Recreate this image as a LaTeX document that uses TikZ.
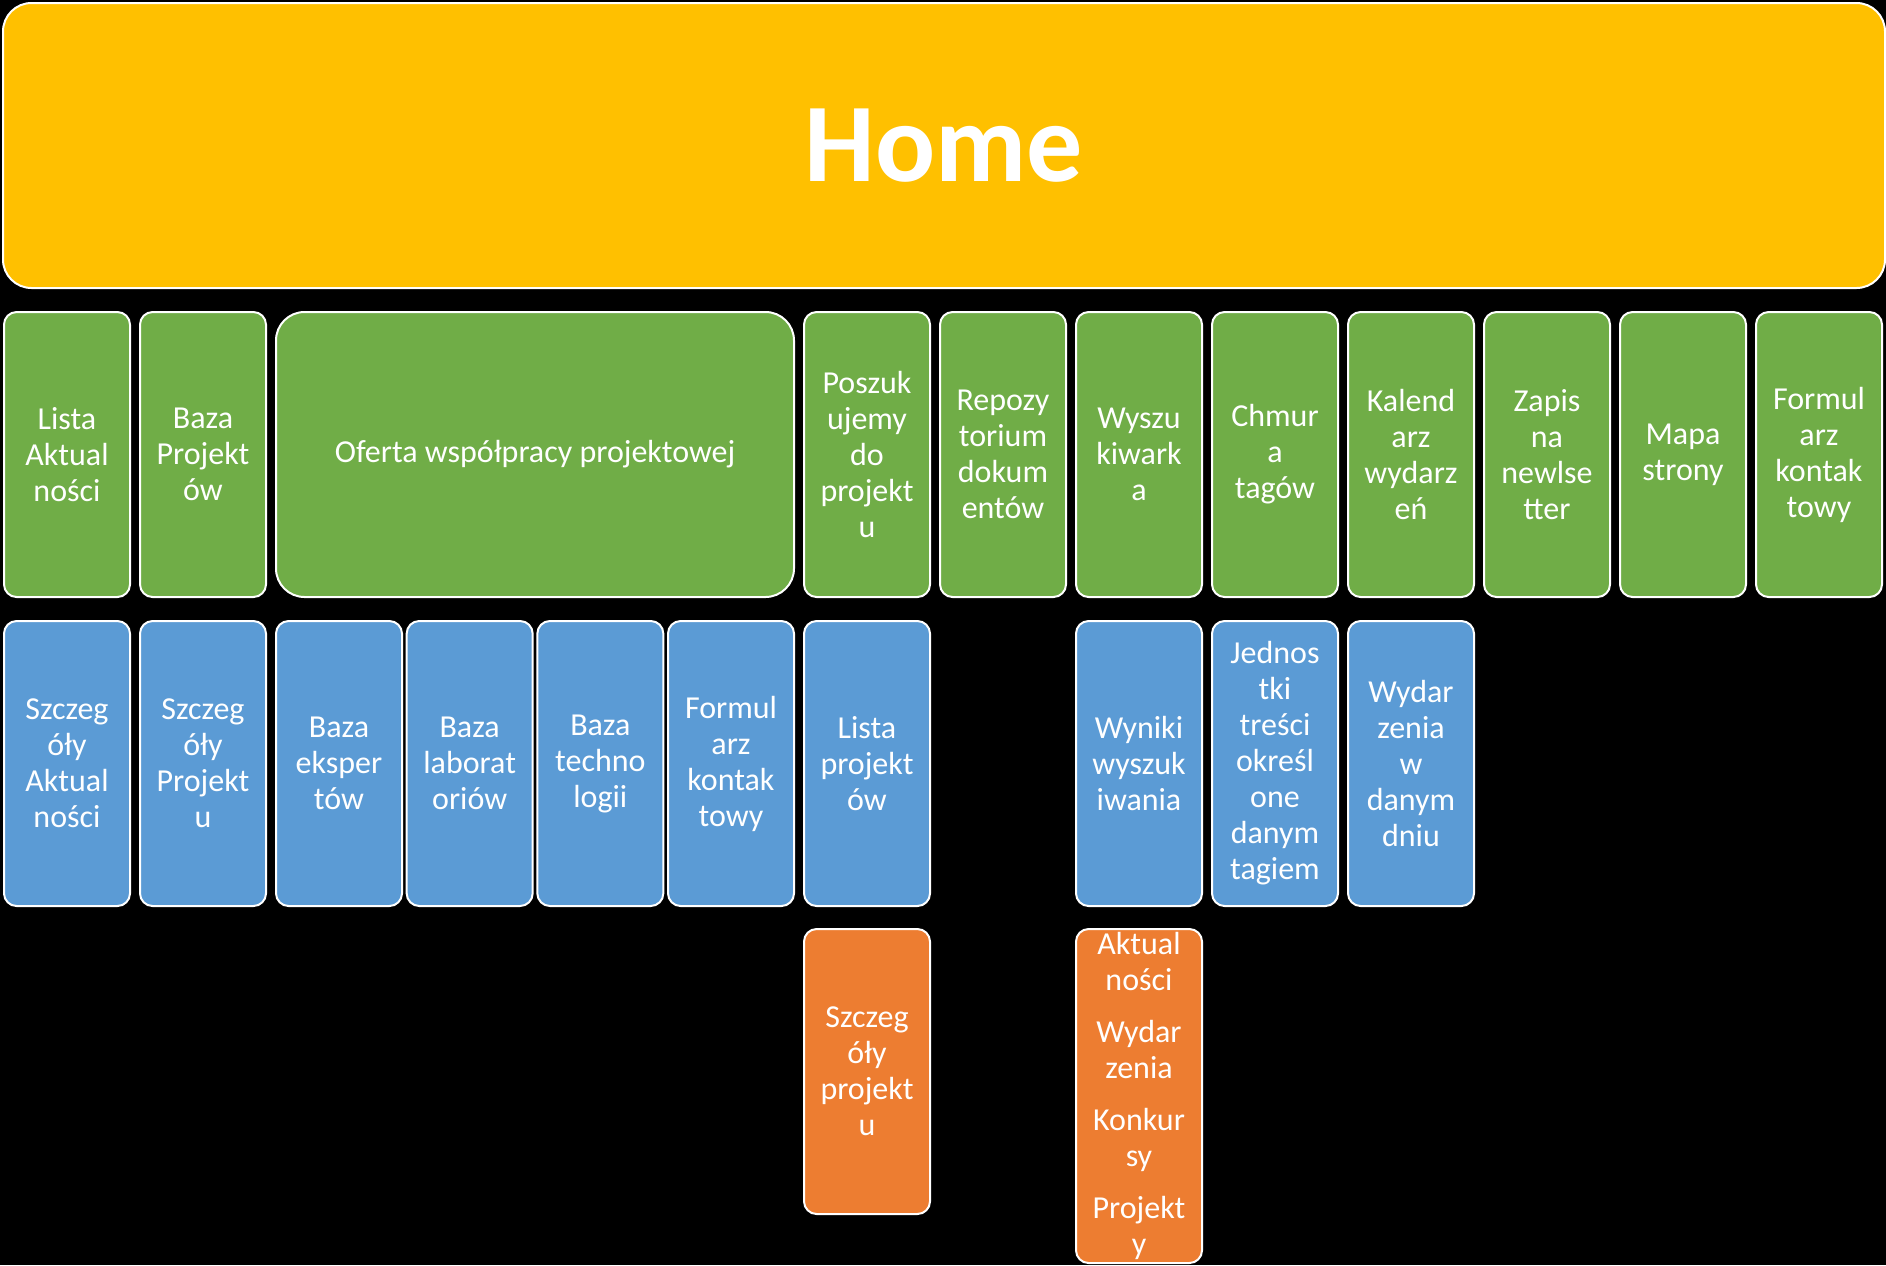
\documentclass[tikz,border=0pt]{standalone}
\usepackage{fontspec}
\setmainfont{Carlito}
\usepackage{xcolor}
\usepackage{tikz}
\definecolor{homeyellow}{HTML}{FFC000}
\definecolor{menugreen}{HTML}{70AD47}
\definecolor{subblue}{HTML}{5B9BD5}
\definecolor{detailorange}{HTML}{ED7D31}
\tikzset{
    box/.style={draw=white, line width=1pt, rounded corners=6.3pt, text=white,
        align=center, inner sep=0pt, anchor=north west,
        font=\fontsize{16}{18}\selectfont,
        minimum width=63pt, minimum height=142.5pt},
    homebox/.style={box, fill=homeyellow, rounded corners=14.25pt,
        minimum width=941pt, font=\fontsize{56}{60}\selectfont\bfseries},
    menubox/.style={box, fill=menugreen},
    subbox/.style={box, fill=subblue},
    detailbox/.style={box, fill=detailorange},
}

\begin{document}
\begin{tikzpicture}[x=0.5pt, y=-0.5pt]
    % Background
    \fill[black] (0,0) rectangle (1886,1265);
    \useasboundingbox (0,0) rectangle (1886,1265);

    % Top level
    \node[homebox] (home) at (2,2) {Home};

    % Menu
    \node[menubox] (lista) at (3,311) {Lista\\Aktual\\ności};
    \node[menubox] (baza) at (139,311) {Baza\\Projekt\\ów};
    \node[menubox, minimum width=259pt, rounded corners=14.25pt] (oferta) at (275,311)
        {Oferta współpracy projektowej};
    \foreach \i/\txt in {0/{Poszuk\\ujemy\\do\\projekt\\u}, 1/{Repozy\\torium\\dokum\\entów},
        2/{Wyszu\\kiwark\\a}, 3/{Chmur\\a\\tagów}, 4/{Kalend\\arz\\wydarz\\eń},
        5/{Zapis\\na\\newlse\\tter}, 6/{Mapa\\strony}, 7/{Formul\\arz\\kontak\\towy}} {
        \node[menubox] (menu\i) at ({803+136*\i},311) {\txt};
    }

    % Subpages
    \node[subbox] (szczegakt) at (3,620) {Szczeg\\óły\\Aktual\\ności};
    \node[subbox] (szczegproj) at (139,620) {Szczeg\\óły\\Projekt\\u};
    \foreach \i/\txt in {0/{Baza\\eksper\\tów}, 1/{Baza\\laborat\\oriów},
        2/{Baza\\techno\\logii}, 3/{Formul\\arz\\kontak\\towy}} {
        \node[subbox] (oferta\i) at ({275+130.67*\i},620) {\txt};
    }
    \node[subbox] (listaproj) at (803,620) {Lista\\projekt\\ów};
    \node[subbox] (wyniki) at (1075,620) {Wyniki\\wyszuk\\iwania};
    \node[subbox] (jednostki) at (1211,620) {Jednos\\tki\\treści\\określ\\one\\danym\\tagiem};
    \node[subbox] (wydarzenia) at (1347,620) {Wydar\\zenia\\w\\danym\\dniu};

    % Details
    \node[detailbox] (szczegol) at (803,928) {Szczeg\\óły\\projekt\\u};
    \node[detailbox, minimum height=167pt] (kategorie) at (1075,928)
        {Aktual\\ności\\[8pt]Wydar\\zenia\\[8pt]Konkur\\sy\\[8pt]Projekt\\y};
\end{tikzpicture}
\end{document}
